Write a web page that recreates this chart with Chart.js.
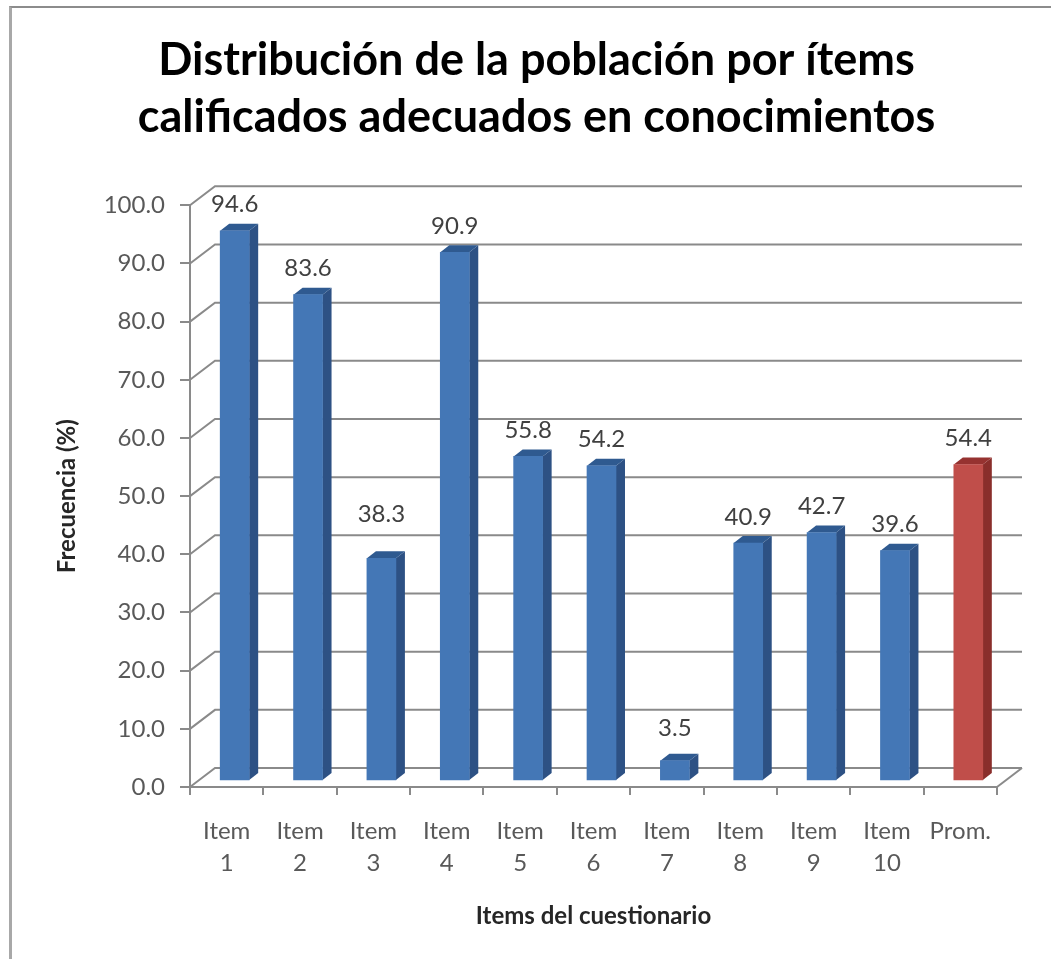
<!DOCTYPE html>
<html>
<head>
<meta charset="utf-8">
<style>
  html, body { margin: 0; padding: 0; background: #fff; }
  #wrap { position: relative; width: 1051px; height: 959px; overflow: hidden; }
  #frame { position: absolute; left: 9px; top: 6px; right: -5px; bottom: -5px;
           border-top: 2px solid #8c8c8c; border-left: 3px solid #a8a8a8; }
  canvas { position: absolute; left: 0; top: 0; }
</style>
<script src="https://cdn.jsdelivr.net/npm/chart.js@4"></script>
</head>
<body>
<div id="wrap">
  <div id="frame"></div>
  <canvas id="chart" width="1051" height="959"></canvas>
</div>
<script>
const titleLines = ['Distribución de la población por ítems', 'calificados adecuados en conocimientos'];
const categories = [['Item', '1'], ['Item', '2'], ['Item', '3'], ['Item', '4'], ['Item', '5'], ['Item', '6'],
                    ['Item', '7'], ['Item', '8'], ['Item', '9'], ['Item', '10'], 'Prom.'];
const values = [94.6, 83.6, 38.3, 90.9, 55.8, 54.2, 3.5, 40.9, 42.7, 39.6, 54.4];
const frontColors = ['#4477b6', '#4477b6', '#4477b6', '#4477b6', '#4477b6', '#4477b6',
                     '#4477b6', '#4477b6', '#4477b6', '#4477b6', '#c04e4a'];
const sideColors = ['#2d5184', '#2d5184', '#2d5184', '#2d5184', '#2d5184', '#2d5184',
                    '#2d5184', '#2d5184', '#2d5184', '#2d5184', '#8a2e2b'];
const topColors = ['#2f5a90', '#2f5a90', '#2f5a90', '#2f5a90', '#2f5a90', '#2f5a90',
                   '#2f5a90', '#2f5a90', '#2f5a90', '#2f5a90', '#963230'];

const FONT = 'Lato, Carlito, sans-serif';
const AXIS = '#8a8a8a';
// fake 3D: back wall offset, bar offset from the front plane, bar depth
const WALL = { x: 25, y: -19 };
const BAR = { x: 8, y: -6 };
const DEPTH = { x: 9, y: -7 };
// value labels sit a fixed gap above the bar, a couple were moved by hand in the original
const LABEL_GAP = 26;
const labelNudge = { 2: 18, 6: 6 };

const walls3d = {
  id: 'walls3d',
  afterLayout(chart) {
    // the original title is centred further right than the canvas centre
    chart.titleBlock.left = 76;
  },
  beforeDatasetsDraw(chart) {
    const { ctx, chartArea, scales } = chart;
    ctx.save();
    ctx.strokeStyle = AXIS;
    ctx.lineWidth = 2;
    scales.y.ticks.forEach(t => {
      const y = scales.y.getPixelForValue(t.value);
      ctx.beginPath();
      ctx.moveTo(chartArea.left, y);
      ctx.lineTo(chartArea.left + WALL.x, y + WALL.y);
      ctx.lineTo(chartArea.right + WALL.x, y + WALL.y);
      ctx.stroke();
    });
    // floor edge on the right
    const y0 = scales.y.getPixelForValue(0);
    ctx.beginPath();
    ctx.moveTo(chartArea.right, y0);
    ctx.lineTo(chartArea.right + WALL.x, y0 + WALL.y);
    ctx.stroke();
    ctx.restore();
  }
};

const bars3d = {
  id: 'bars3d',
  beforeDatasetDraw(chart) {
    const { ctx } = chart;
    const bars = chart.getDatasetMeta(0).data;
    ctx.save();
    ctx.translate(BAR.x, BAR.y);
    bars.forEach((b, i) => {
      const l = b.x - b.width / 2, r = b.x + b.width / 2;
      // side face
      ctx.fillStyle = sideColors[i];
      ctx.beginPath();
      ctx.moveTo(r, b.y);
      ctx.lineTo(r + DEPTH.x, b.y + DEPTH.y);
      ctx.lineTo(r + DEPTH.x, b.base + DEPTH.y);
      ctx.lineTo(r, b.base);
      ctx.closePath();
      ctx.fill();
      // top face
      ctx.fillStyle = topColors[i];
      ctx.beginPath();
      ctx.moveTo(l, b.y);
      ctx.lineTo(l + DEPTH.x, b.y + DEPTH.y);
      ctx.lineTo(r + DEPTH.x, b.y + DEPTH.y);
      ctx.lineTo(r, b.y);
      ctx.closePath();
      ctx.fill();
    });
    // the bars themselves get drawn right after this, still translated
  },
  afterDatasetDraw(chart) {
    const { ctx } = chart;
    ctx.restore();
    const bars = chart.getDatasetMeta(0).data;
    ctx.save();
    ctx.fillStyle = '#404040';
    ctx.font = '24px ' + FONT;
    ctx.textAlign = 'center';
    ctx.textBaseline = 'middle';
    bars.forEach((b, i) => {
      const gap = LABEL_GAP + (labelNudge[i] || 0);
      ctx.fillText(values[i].toFixed(1), b.x + BAR.x, b.y + BAR.y - gap);
    });
    ctx.restore();
  }
};

new Chart(document.getElementById('chart'), {
  type: 'bar',
  data: {
    labels: categories,
    datasets: [{
      data: values,
      backgroundColor: frontColors,
      borderWidth: 0,
      barThickness: 29,
      clip: false
    }]
  },
  plugins: [walls3d, bars3d],
  options: {
    responsive: false,
    animation: false,
    layout: { padding: { left: 0, right: 54, top: 0, bottom: 0 } },
    plugins: {
      legend: { display: false },
      tooltip: { enabled: false },
      title: {
        display: true,
        text: titleLines,
        color: '#000',
        font: { family: FONT, size: 45, weight: 'bold', lineHeight: 1.27 },
        padding: { top: 32, bottom: 59 }
      }
    },
    scales: {
      x: {
        afterFit(scale) { scale.height = 172; },
        border: { color: AXIS, width: 2 },
        grid: { color: AXIS, lineWidth: 2, drawOnChartArea: false, drawTicks: true, tickLength: 8 },
        ticks: {
          color: '#595959',
          font: { family: FONT, size: 24, lineHeight: 1.33 },
          padding: 20,
          maxRotation: 0,
          autoSkip: false
        },
        title: {
          display: true,
          text: 'Items del cuestionario',
          color: '#262626',
          font: { family: FONT, size: 24, weight: 'bold' },
          padding: { top: 20, bottom: 28 }
        }
      },
      y: {
        min: 0,
        max: 100,
        afterFit(scale) { scale.width = 190; },
        border: { color: AXIS, width: 2 },
        grid: { color: AXIS, lineWidth: 2, drawOnChartArea: false, drawTicks: true, tickLength: 10 },
        ticks: {
          stepSize: 10,
          color: '#595959',
          font: { family: FONT, size: 24 },
          padding: 15,
          callback: v => v.toFixed(1)
        },
        title: {
          display: true,
          text: 'Frecuencia (%)',
          color: '#262626',
          font: { family: FONT, size: 24, weight: 'bold' },
          padding: { top: 53, bottom: 0 }
        }
      }
    }
  }
});
</script>
</body>
</html>
